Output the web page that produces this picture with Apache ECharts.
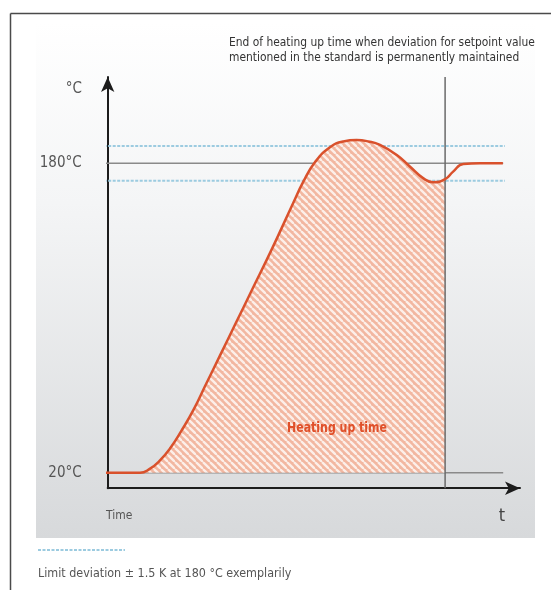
<!DOCTYPE html>
<html>
<head>
<meta charset="utf-8">
<script src="https://cdn.jsdelivr.net/npm/echarts@6/dist/echarts.min.js"></script>
<style>
html,body{margin:0;padding:0;background:#fff;}
#c{width:551px;height:590px;}
</style>
</head>
<body>
<div id="c"></div>
<script>
// ---- data ----
const curveX = [-5, 5, 9.2, 12, 15, 18, 21, 24.5, 28, 32, 36.5, 41, 47, 53, 55.9, 59.2, 63.5, 67.3, 71.1, 74.5, 77.8, 82.6, 86.4, 90.2, 93.0, 96.4, 98.7, 101.6, 106.4, 112.9];
const curveT = [20, 20, 20, 22, 26.5, 33, 41.5, 52.5, 65.5, 80.3, 97, 113.7, 136, 159.5, 170.5, 180.5, 188.3, 191.3, 192.0, 191.3, 189.5, 184.3, 178.2, 172.2, 170.2, 171.8, 175.7, 179.6, 180, 180];
const endOfHeatingTime = 96.4;
const setpoint = 180;
const startTemp = 20;
const limitUpper = 189;
const limitLower = 171;
const refLineX = [-5, 113];
const limitLineX = [-5, 113.5];
const yTickLabels = [20, 180];
const yMin = 12, yMax = 224.6;
const xMin = 0, xMax = 117.8;

const FONT = "'Liberation Sans Narrow', 'DejaVu Sans Condensed', 'Open Sans', sans-serif";

// hatch pattern
function makeHatch() {
  const s = 7;
  const c = document.createElement('canvas');
  c.width = s; c.height = s;
  const g = c.getContext('2d');
  g.fillStyle = '#f2b7a1';
  g.fillRect(0, 0, s, s);
  g.strokeStyle = '#fcefe9';
  g.lineWidth = 2.3;
  for (const k of [-s, 0, s]) {
    g.beginPath();
    g.moveTo(k, 0);
    g.lineTo(k + s, s);
    g.stroke();
  }
  return c;
}

const curve = curveX.map((x, i) => [x, curveT[i]]);
const areaPts = curve.filter(p => p[0] <= endOfHeatingTime);

const chart = echarts.init(document.getElementById('c'), null, {renderer: 'canvas'});
const yScale = 1.934;
const gridTop = 163.3 - (yMax - setpoint) * yScale;
const gridH = (yMax - yMin) * yScale;

chart.setOption({
  animation: false,
  backgroundColor: '#ffffff',
  grid: {left: 107.7, top: gridTop, width: (xMax - xMin) * 3.5, height: gridH, containLabel: false},
  xAxis: {
    type: 'value', min: xMin, max: xMax,
    axisLine: {show: true, onZero: false, symbol: ['none', 'arrow'], symbolSize: [10, 15], lineStyle: {color: '#1c1c1c', width: 2}},
    axisTick: {show: false}, axisLabel: {show: false}, splitLine: {show: false}
  },
  yAxis: {
    type: 'value', min: yMin, max: yMax,
    axisLine: {show: true, onZero: true, symbol: ['none', 'arrow'], symbolSize: [10, 15], lineStyle: {color: '#1c1c1c', width: 2}},
    axisTick: {show: false},
    axisLabel: {show: true, customValues: yTickLabels, formatter: v => v + '°C', margin: 26,
      color: '#555', fontSize: 15, fontFamily: FONT},
    splitLine: {show: false}
  },
  series: [
    {type: 'line', data: refLineX.map(x => [x, setpoint]), clip: false, symbol: 'none', silent: true,
      lineStyle: {color: '#8a8a8a', width: 1.5}, z: 1},
    {type: 'line', data: refLineX.map(x => [x, startTemp]), clip: false, symbol: 'none', silent: true,
      lineStyle: {color: '#8a8a8a', width: 1.5}, z: 1},
    {type: 'line', data: limitLineX.map(x => [x, limitUpper]), clip: false, symbol: 'none', silent: true,
      lineStyle: {color: '#9ccbe0', width: 2, type: [3, 1.5]}, z: 1},
    {type: 'line', data: limitLineX.map(x => [x, limitLower]), clip: false, symbol: 'none', silent: true,
      lineStyle: {color: '#9ccbe0', width: 2, type: [3, 1.5]}, z: 1},
    {type: 'line', data: areaPts, clip: false, symbol: 'none', smooth: 0.5, silent: true,
      lineStyle: {width: 0},
      areaStyle: {origin: startTemp, color: {image: makeHatch(), repeat: 'repeat'}, opacity: 1}, z: 2},
    {type: 'line', data: [[endOfHeatingTime, yMin], [endOfHeatingTime, yMax]], clip: false, symbol: 'none', silent: true,
      lineStyle: {color: '#6a6a6a', width: 1.5}, z: 3},
    {type: 'line', data: curve, clip: false, symbol: 'none', smooth: 0.5, silent: true,
      lineStyle: {color: '#d9512c', width: 2.5}, z: 4}
  ],
  graphic: [
    {type: 'rect', z: -10, silent: true, shape: {x: 36, y: 22, width: 499, height: 516},
      style: {fill: new echarts.graphic.LinearGradient(0, 0, 0, 1, [
        {offset: 0, color: '#ffffff'}, {offset: 0.35, color: '#f4f5f6'}, {offset: 1, color: '#d7d9db'}])}},
    {type: 'line', z: 10, silent: true, shape: {x1: 10.5, y1: 13.5, x2: 551, y2: 13.5}, style: {stroke: '#4a4a4a', lineWidth: 1.5}},
    {type: 'line', z: 10, silent: true, shape: {x1: 10.5, y1: 13.5, x2: 10.5, y2: 590}, style: {stroke: '#4a4a4a', lineWidth: 1.5}},
    {type: 'text', z: 10, silent: true, x: 229, y: 43, scaleX: 0.915, style: {text: 'End of heating up time when deviation for setpoint value', fill: '#333', font: '13px ' + FONT, textVerticalAlign: 'middle'}},
    {type: 'text', z: 10, silent: true, x: 229, y: 58, scaleX: 0.915, style: {text: 'mentioned in the standard is permanently maintained', fill: '#333', font: '13px ' + FONT, textVerticalAlign: 'middle'}},
    {type: 'text', z: 10, silent: true, x: 82, y: 89, style: {text: '°C', fill: '#555', font: '15px ' + FONT, textAlign: 'right', textVerticalAlign: 'middle'}},
    {type: 'text', z: 10, silent: true, x: 106, y: 516, scaleX: 0.92, style: {text: 'Time', fill: '#555', font: '13px ' + FONT, textVerticalAlign: 'middle'}},
    {type: 'text', z: 10, silent: true, x: 502, y: 516, style: {text: 't', fill: '#444', font: '18px ' + FONT, textAlign: 'center', textVerticalAlign: 'middle'}},
    {type: 'text', z: 10, silent: true, x: 337, y: 428, scaleX: 0.87, style: {text: 'Heating up time', fill: '#e0502a', font: 'bold 14px ' + FONT, textAlign: 'center', textVerticalAlign: 'middle'}},
    {type: 'line', z: 10, silent: true, shape: {x1: 38, y1: 550, x2: 125, y2: 550}, style: {stroke: '#9ccbe0', lineWidth: 2, lineDash: [3, 1.5]}},
    {type: 'text', z: 10, silent: true, x: 38, y: 574, scaleX: 0.955, style: {text: 'Limit deviation ± 1.5 K at 180 °C exemplarily', fill: '#555', font: '13px ' + FONT, textVerticalAlign: 'middle'}}
  ]
});
</script>
</body>
</html>
